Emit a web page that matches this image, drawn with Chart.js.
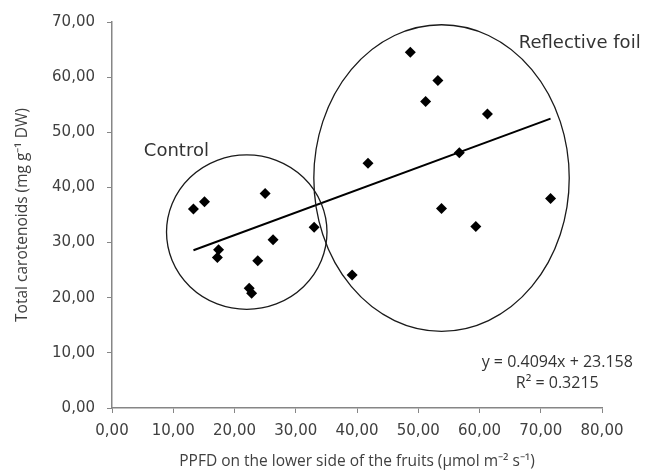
<!DOCTYPE html>
<html>
<head>
<meta charset="utf-8">
<script src="https://cdn.jsdelivr.net/npm/chart.js@4/dist/chart.umd.min.js"></script>
<style>
  html, body { margin: 0; padding: 0; background: #ffffff; }
  canvas { display: block; }
</style>
</head>
<body>
<canvas id="c" width="649" height="473"></canvas>
<script>
// ---- data ----
const controlX = [13.3, 15.1, 25.0, 17.4, 17.2, 26.3, 23.8, 22.4, 22.8, 33.0];
const controlY = [36.1, 37.4, 38.9, 28.7, 27.3, 30.5, 26.7, 21.7, 20.8, 32.8];
const foilX    = [39.2, 41.8, 48.7, 53.2, 51.2, 61.3, 56.7, 71.6, 53.8, 59.4];
const foilY    = [24.1, 44.4, 64.5, 59.4, 55.6, 53.3, 46.3, 38.0, 36.2, 32.9];
const trendSlope = 0.4094;
const trendIntercept = 23.158;
const equationLines = ['y = 0.4094x + 23.158', 'R² = 0.3215'];
const groupNames = ['Control', 'Reflective foil'];
const xTicks = [0, 10, 20, 30, 40, 50, 60, 70, 80];
const yTicks = [0, 10, 20, 30, 40, 50, 60, 70];
const xTitle = 'PPFD on the lower side of the fruits (µmol m⁻² s⁻¹)';
const yTitle = 'Total carotenoids (mg g⁻¹ DW)';

// ---- group ellipses (data units) ----
const ellipses = [
  { cx: 22.0, cy: 31.9, rx: 13.1, ry: 14.0 },
  { cx: 53.8, cy: 41.7, rx: 20.85, ry: 27.8 }
];
const groupLabelPos = [ { x: 5.2, y: 46.6 }, { x: 66.4, y: 66.2 } ];
const equationPos = { x: 72.7, y: [8.2, 4.4] };

const toPts = (xs, ys) => xs.map((x, i) => ({ x, y: ys[i] }));
const allX = controlX.concat(foilX);
const minX = Math.min(...allX), maxX = Math.max(...allX);
const trendPts = [minX, maxX].map(x => ({ x, y: trendSlope * x + trendIntercept }));

const fmt = v => Number(v).toFixed(2).replace('.', ',');
const textColor = '#404040';
const axisColor = '#868686';

const overlay = {
  id: 'overlay',
  afterDatasetsDraw(chart) {
    const { ctx, scales: { x, y } } = chart;
    ctx.save();
    ctx.strokeStyle = '#1a1a1a';
    ctx.lineWidth = 1.3;
    ellipses.forEach(e => {
      const px = x.getPixelForValue(e.cx), py = y.getPixelForValue(e.cy);
      const rx = Math.abs(x.getPixelForValue(e.cx + e.rx) - px);
      const ry = Math.abs(y.getPixelForValue(e.cy + e.ry) - py);
      ctx.beginPath();
      ctx.ellipse(px, py, rx, ry, 0, 0, Math.PI * 2);
      ctx.stroke();
    });
    ctx.fillStyle = '#333333';
    ctx.font = '18px "DejaVu Sans"';
    ctx.textAlign = 'left';
    ctx.textBaseline = 'middle';
    groupNames.forEach((n, i) => {
      ctx.fillText(n, x.getPixelForValue(groupLabelPos[i].x), y.getPixelForValue(groupLabelPos[i].y));
    });
    ctx.font = '16px "Open Sans"';
    ctx.textAlign = 'center';
    equationLines.forEach((t, i) => {
      ctx.fillText(t, x.getPixelForValue(equationPos.x), y.getPixelForValue(equationPos.y[i]));
    });
    ctx.restore();
  }
};

new Chart(document.getElementById('c'), {
  type: 'scatter',
  data: {
    datasets: [
      { label: 'Control', data: toPts(controlX, controlY), pointStyle: 'rectRot', pointRadius: 5.5,
        backgroundColor: '#000', borderColor: '#000', borderWidth: 0 },
      { label: 'Reflective foil', data: toPts(foilX, foilY), pointStyle: 'rectRot', pointRadius: 5.5,
        backgroundColor: '#000', borderColor: '#000', borderWidth: 0 },
      { label: 'Trend', type: 'line', data: trendPts, showLine: true, pointRadius: 0,
        borderColor: '#000', borderWidth: 2, fill: false }
    ]
  },
  options: {
    responsive: false,
    animation: false,
    devicePixelRatio: 1,
    layout: { padding: { top: 22, right: 47, bottom: 0, left: 0 } },
    plugins: { legend: { display: false }, tooltip: { enabled: false } },
    scales: {
      x: {
        type: 'linear', min: 0, max: 80,
        afterBuildTicks: s => { s.ticks = xTicks.map(v => ({ value: v })); },
        afterFit: s => { s.height = 65; },
        ticks: { callback: fmt, color: textColor, font: { family: 'DejaVu Sans', size: 15 }, padding: 9, maxRotation: 0 },
        grid: { drawOnChartArea: false, drawTicks: true, tickLength: 5, color: axisColor },
        border: { display: true, color: axisColor, width: 1.5 },
        title: { display: true, text: xTitle, color: textColor, font: { family: 'Open Sans', size: 15.5 }, padding: { top: 0, bottom: 2 } }
      },
      y: {
        type: 'linear', min: 0, max: 70,
        afterBuildTicks: s => { s.ticks = yTicks.map(v => ({ value: v })); },
        afterFit: s => { s.width = 112; },
        ticks: { callback: fmt, color: textColor, font: { family: 'DejaVu Sans', size: 15 }, padding: 12 },
        grid: { drawOnChartArea: false, drawTicks: true, tickLength: 5, color: axisColor },
        border: { display: true, color: axisColor, width: 1.5 },
        title: { display: true, text: yTitle, color: textColor, font: { family: 'Open Sans', size: 15.5 }, padding: { top: 13, bottom: 0 } }
      }
    }
  },
  plugins: [overlay]
});
</script>
</body>
</html>
